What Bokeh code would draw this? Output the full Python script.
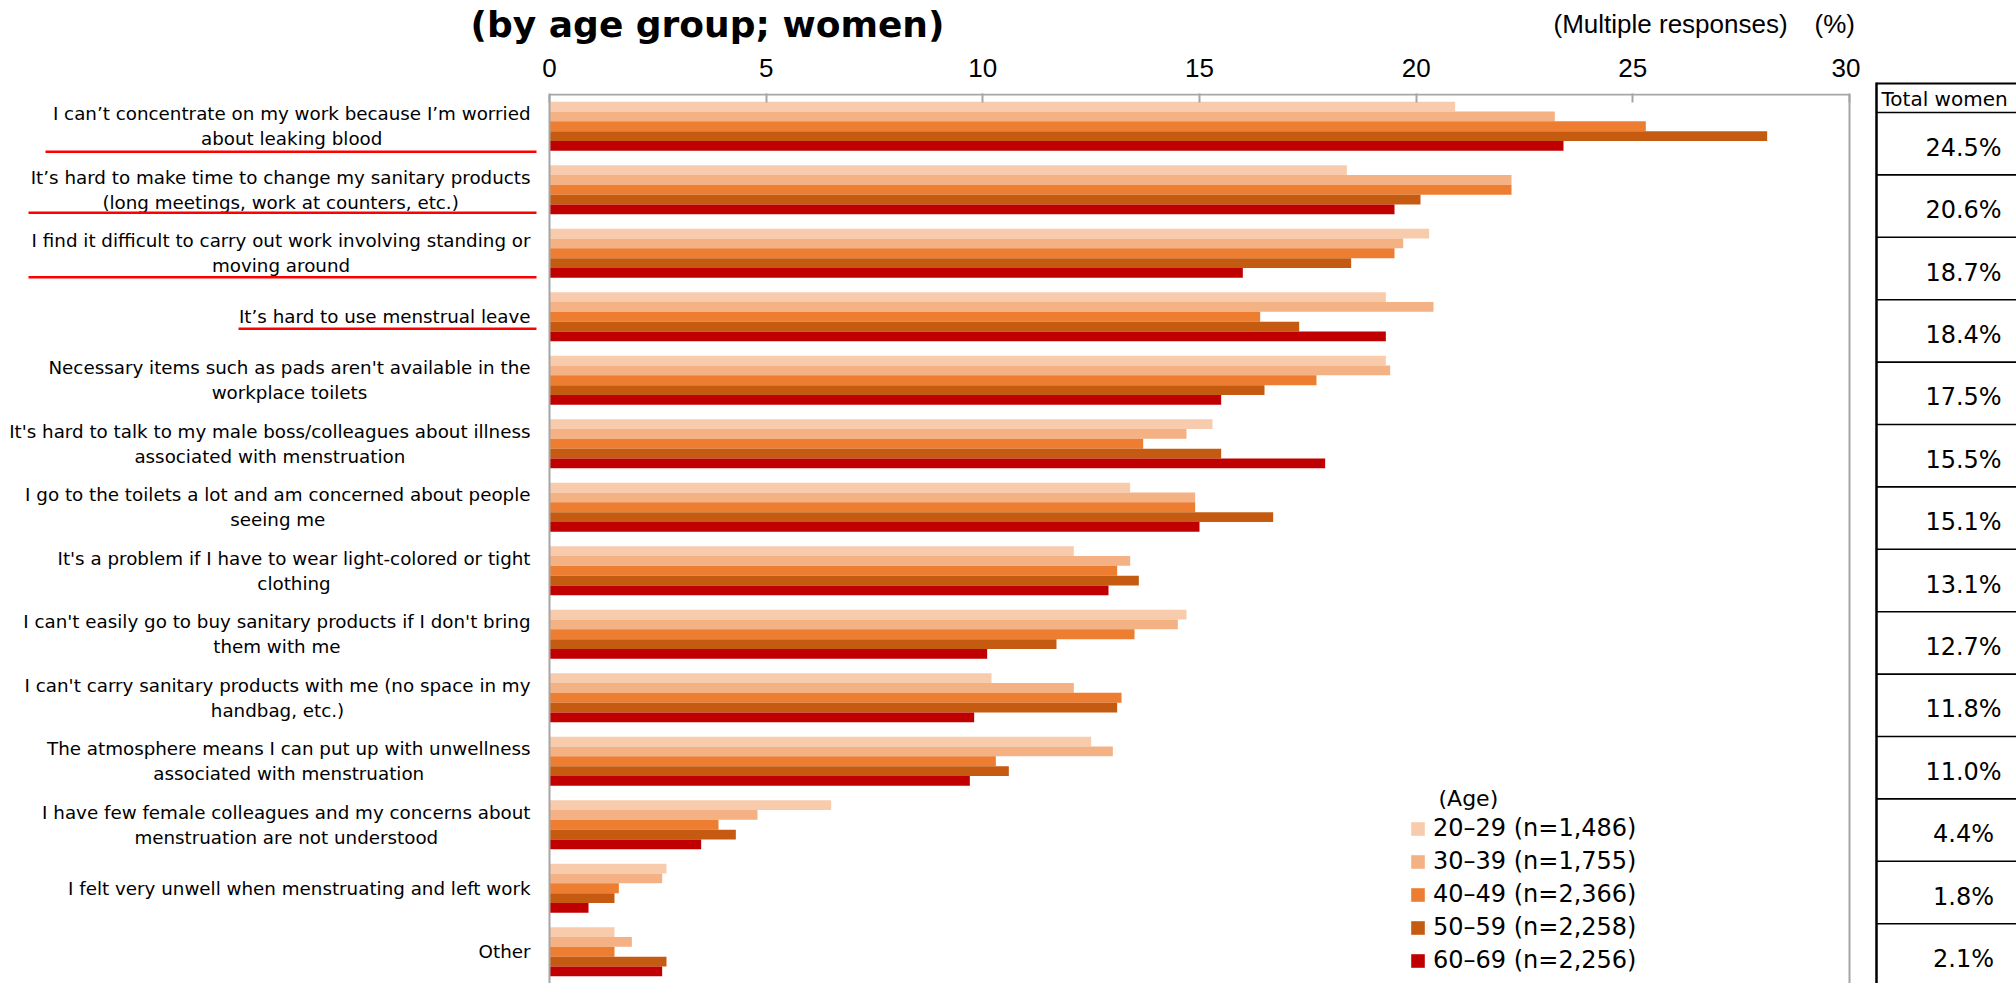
from bokeh.plotting import figure
from bokeh.models import (ColumnDataSource, Range1d, FixedTicker, Label, Legend, LegendItem)
from bokeh.layouts import column, row
from bokeh.core.properties import value
from bokeh.embed import file_html
from bokeh.resources import INLINE

# ---------------- data ----------------
categories = [
    "I can’t concentrate on my work because I’m worried\nabout leaking blood",
    "It’s hard to make time to change my sanitary products\n(long meetings, work at counters, etc.)",
    "I find it difficult to carry out work involving standing or\nmoving around",
    "It’s hard to use menstrual leave",
    "Necessary items such as pads aren't available in the\nworkplace toilets",
    "It's hard to talk to my male boss/colleagues about illness\nassociated with menstruation",
    "I go to the toilets a lot and am concerned about people\nseeing me",
    "It's a problem if I have to wear light-colored or tight\nclothing",
    "I can't easily go to buy sanitary products if I don't bring\nthem with me",
    "I can't carry sanitary products with me (no space in my\nhandbag, etc.)",
    "The atmosphere means I can put up with unwellness\nassociated with menstruation",
    "I have few female colleagues and my concerns about\nmenstruation are not understood",
    "I felt very unwell when menstruating and left work",
    "Other",
]
age_20s = [20.9, 18.4, 20.3, 19.3, 19.3, 15.3, 13.4, 12.1, 14.7, 10.2, 12.5, 6.5, 2.7, 1.5]
age_30s = [23.2, 22.2, 19.7, 20.4, 19.4, 14.7, 14.9, 13.4, 14.5, 12.1, 13.0, 4.8, 2.6, 1.9]
age_40s = [25.3, 22.2, 19.5, 16.4, 17.7, 13.7, 14.9, 13.1, 13.5, 13.2, 10.3, 3.9, 1.6, 1.5]
age_50s = [28.1, 20.1, 18.5, 17.3, 16.5, 15.5, 16.7, 13.6, 11.7, 13.1, 10.6, 4.3, 1.5, 2.7]
age_60s = [23.4, 19.5, 16.0, 19.3, 15.5, 17.9, 15.0, 12.9, 10.1, 9.8, 9.7, 3.5, 0.9, 2.6]
series_labels = ["20–29 (n=1,486)", "30–39 (n=1,755)", "40–49 (n=2,366)",
                 "50–59 (n=2,258)", "60–69 (n=2,256)"]
total_header = "Total women"
total_women = ["24.5%", "20.6%", "18.7%", "18.4%", "17.5%", "15.5%", "15.1%",
               "13.1%", "12.7%", "11.8%", "11.0%", "4.4%", "1.8%", "2.1%"]
x_ticks = [0, 5, 10, 15, 20, 25, 30]
underlined = [0, 1, 2, 3]
title_text = "(by age group; women)"
note_text = "(Multiple responses)"
unit_text = "(%)"
legend_title = "(Age)"

# ---------------- styles / layout ----------------
colors = ["#F8CBAD", "#F4B183", "#ED7D31", "#C55A11", "#C00000"]
W, H = 2016, 983
HEAD_H = 45                 # header strip height
MAIN_W = 1860               # chart figure width
FRAME_L, FRAME_R, FRAME_T = 549, 1849, 94
PXU = (FRAME_R - FRAME_L) / 30.0   # px per % unit
BAND = 63.5                         # px per category
FONT = "DejaVu Sans"
SANS = "Liberation Sans"
GRAY = "#A6A6A6"


def X(px):
    return (px - FRAME_L) / PXU


n = len(categories)

# ---------------- header strip ----------------
head = figure(width=MAIN_W, height=HEAD_H, x_range=Range1d(0, MAIN_W),
              y_range=Range1d(HEAD_H, 0),
              toolbar_location=None, output_backend="svg", outline_line_color=None,
              min_border_left=0, min_border_right=0, min_border_top=0, min_border_bottom=0,
              x_axis_location=None, y_axis_location=None)
head.grid.visible = False
head.text(x=[707], y=[23.5], text=[title_text], text_align="center", text_baseline="middle",
          text_font=value(FONT), text_font_style="bold", text_font_size="36px",
          text_color="#000000")
head.text(x=[1553, 1814], y=[23, 23], text=[note_text, unit_text], text_align="left",
          text_baseline="middle", text_font=value(SANS), text_font_size="26px",
          text_color="#000000")

# ---------------- main chart ----------------
top_border = FRAME_T - 1 - HEAD_H
p = figure(width=MAIN_W, height=H - HEAD_H,
           x_range=Range1d(X(0), X(MAIN_W)),
           y_range=Range1d(n - 0.5, -0.5 - 1.0 / BAND),
           x_axis_location="above", y_axis_location=None,
           toolbar_location=None, output_backend="svg",
           min_border_left=0, min_border_right=0, min_border_bottom=0,
           min_border_top=top_border, outline_line_color=None)
p.grid.visible = False

ax = p.xaxis[0]
ax.ticker = FixedTicker(ticks=x_ticks)
ax.axis_line_color = None
ax.major_tick_in = 9
ax.major_tick_out = 0
ax.major_tick_line_color = GRAY
ax.major_tick_line_width = 2
ax.minor_tick_line_color = None
ax.major_label_text_font = SANS
ax.major_label_text_font_size = "26px"
ax.major_label_text_color = "#000000"
ax.major_label_standoff = 17

series = [age_20s, age_30s, age_40s, age_50s, age_60s]
bh = 49.0 / 5 / BAND
renderers = []
for j, vals in enumerate(series):
    src = ColumnDataSource(dict(y=[i + (j - 2) * bh for i in range(n)], v=vals))
    r = p.hbar(y="y", left=0, right="v", height=bh, source=src,
               fill_color=colors[j], line_color=None)
    renderers.append(r)

# plot frame (left, top, right)
p.segment(x0=[0, 0, 30], y0=[-0.5, -0.5, -0.5], x1=[0, 30, 30], y1=[n, -0.5, n],
          line_color=GRAY, line_width=2)

# category labels
lab_src = ColumnDataSource(dict(x=[X(530)] * n, y=list(range(n)), t=categories))
p.text(x="x", y="y", text="t", source=lab_src, anchor="center_right",
       text_align="center", text_baseline="middle", text_font=value(FONT),
       text_font_size="18.3px", text_color="#000000", text_line_height=1.2)

# red underlines under highlighted labels
ul_start = [45, 28, 28, 238]
ul_off = [25.5, 23, 24, 12]
ul_y = [i + o / BAND for i, o in zip(underlined, ul_off)]
p.segment(x0=[X(s) for s in ul_start], x1=[X(536)] * len(underlined),
          y0=ul_y, y1=ul_y, line_color="#FF0000", line_width=2.5)

# legend
p.add_layout(Label(x=X(1438), y=-0.5 + (798 - FRAME_T) / BAND, text=legend_title,
                   text_align="left", text_baseline="middle", text_font=FONT,
                   text_font_size="22px", text_color="#000000"))
legend = Legend(items=[LegendItem(label=series_labels[j], renderers=[renderers[j]])
                       for j in range(len(series))],
                location=(1409, 9), orientation="vertical",
                glyph_width=17, glyph_height=17, label_standoff=7, spacing=5,
                padding=0, margin=0, border_line_color=None,
                background_fill_alpha=0, label_text_font=FONT,
                label_text_font_size="24px", label_text_color="#000000",
                label_height=28)
p.add_layout(legend)

# ---------------- right table ----------------
TAB_X0 = 1876
HDR_TOP, ROW_TOP, ROW_H = 83, 112, 62.4
tab = figure(width=W - MAIN_W, height=H,
             x_range=Range1d(MAIN_W, W), y_range=Range1d(H, 0),
             toolbar_location=None, output_backend="svg", outline_line_color=None,
             min_border_left=0, min_border_right=0, min_border_top=0, min_border_bottom=0,
             x_axis_location=None, y_axis_location=None)
tab.grid.visible = False
tab.segment(x0=[TAB_X0], x1=[TAB_X0], y0=[HDR_TOP - 1], y1=[H + 5],
            line_color="black", line_width=2.5)
hlines = [HDR_TOP] + [ROW_TOP + k * ROW_H for k in range(n + 1)]
tab.segment(x0=[TAB_X0] * len(hlines), x1=[W + 5] * len(hlines), y0=hlines, y1=hlines,
            line_color="black", line_width=[2] + [1.6] * (n + 1))
tab.text(x=[TAB_X0 + 5], y=[(HDR_TOP + ROW_TOP) / 2 + 1], text=[total_header],
         text_align="left", text_baseline="middle", text_font=value(FONT),
         text_font_size="20px", text_color="#000000")
tab_src = ColumnDataSource(dict(x=[1963] * n,
                                y=[ROW_TOP + (k + 0.5) * ROW_H + 4 for k in range(n)],
                                t=total_women))
tab.text(x="x", y="y", text="t", source=tab_src, text_align="center",
         text_baseline="middle", text_font=value(FONT), text_font_size="24px",
         text_color="#000000")

layout = row(column(head, p, spacing=0), tab, spacing=0)
open("out.html", "w").write(file_html(layout, INLINE))
